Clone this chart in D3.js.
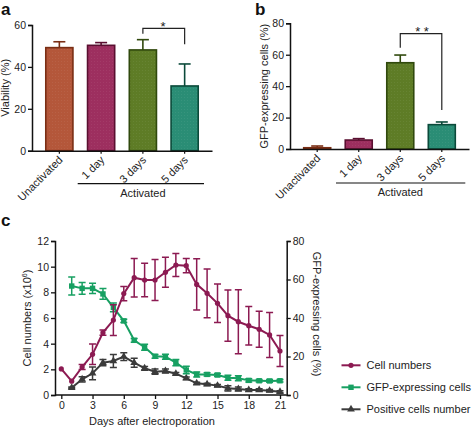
<!DOCTYPE html>
<html><head><meta charset="utf-8">
<script src="https://cdn.jsdelivr.net/npm/d3@7"></script>
<style>
body{margin:0;background:#fff;}
svg{display:block;font-family:"Liberation Sans",Arial,sans-serif;}
</style></head>
<body>
<svg id="chart" width="472" height="428"></svg>
<script>
// ---------- DATA ----------
const barCategories = ["Unactivated", "1 day", "3 days", "5 days"];
const viabilityMean = [49.2, 50.3, 48.1, 30.9];
const viabilityErr  = [2.8, 1.3, 4.9, 10.5];
const gfpBarMean = [0.8, 5.7, 54.9, 15.5];
const gfpBarErr  = [1.1, 0.9, 4.9, 1.7];
const barFills   = ["#b4573a", "#9d2f5f", "#5e7c26", "#2a8d75"];
const barStrokes = ["#7a2e14", "#5a0f30", "#30490d", "#0b4a3a"];
const yTicksA = [0, 20, 40, 60];
const yTicksB = [0, 20, 40, 60, 80];

const days = d3.range(0, 22);
const cellNumbers    = [2.03, 1.08, 2.18, 3.17, 4.86, 5.84, 7.9, 9.14, 8.96, 8.96, 9.56, 10.13, 10.08, 8.62, 7.92, 7.14, 6.18, 5.71, 5.4, 5.12, 4.68, 3.43];
const cellNumbersErr = [0, 0, 0.2, 0.8, 0.2, 1.2, 0.55, 1.5, 1.3, 1.6, 1.17, 0.9, 0.55, 2.0, 1.9, 1.5, 2.0, 2.5, 1.5, 1.4, 1.75, 1.2];
const gfpDays  = d3.range(1, 22);
const gfpPct   = [56.6, 55.4, 55.4, 52.5, 45.5, 38.5, 28.4, 24.8, 20.1, 19.9, 16.8, 13.0, 10.7, 10.7, 10.4, 9.0, 8.7, 7.6, 7.4, 7.3, 7.4];
const gfpPctErr= [4.7, 3.0, 2.7, 2.8, 2.3, 0.8, 1.0, 1.6, 1.0, 1.3, 1.6, 2.0, 1.3, 0.8, 0.8, 1.3, 1.3, 0.8, 0.7, 0.7, 0.7];
const posCells    = [0.57, 1.22, 1.69, 2.52, 2.65, 2.99, 2.52, 2.08, 1.82, 1.87, 1.66, 1.3, 0.91, 0.83, 0.73, 0.52, 0.47, 0.39, 0.39, 0.34, 0.26];
const posCellsErr = [0.05, 0.2, 0.5, 0.25, 0.5, 0.3, 0.35, 0.15, 0.2, 0.15, 0.1, 0.1, 0.08, 0.08, 0.08, 0.2, 0.15, 0.1, 0.1, 0.08, 0.08];
const xTicksC = [0, 3, 6, 9, 12, 15, 18, 21];
const yTicksCLeft = [0, 2, 4, 6, 8, 10, 12];
const yTicksCRight = [0, 20, 40, 60, 80];
const legendLabels = ["Cell numbers", "GFP-expressing cells", "Positive cells number"];
const lineColors = ["#8c1a52", "#17a062", "#3b3b3b"];

// ---------- DRAW ----------
const svg = d3.select("#chart");
const defs = svg.append("defs");
const pat = defs.append("pattern").attr("id","dots").attr("width",3).attr("height",3).attr("patternUnits","userSpaceOnUse");
pat.append("rect").attr("x",1).attr("y",1).attr("width",0.8).attr("height",0.8).attr("fill","#fff").attr("opacity",0.09);

const tickFont = 10.5, labelFont = 11;

function panelLetter(t, x, y){
  svg.append("text").attr("x",x).attr("y",y).text(t)
    .attr("font-size",17).attr("font-weight","bold").attr("fill","#111");
}

function barPanel(opts){
  const {xRange, yScale, means, errs, yTicks, yLabel, yLabelX, bracket, star, starX, starY, actLine} = opts;
  const x = d3.scaleBand().domain(barCategories).range(xRange).paddingInner(0.35).paddingOuter(0.33);
  const g = svg.append("g");
  const y0 = yScale(0);
  barCategories.forEach((c,i)=>{
    const bx = x(c), bw = x.bandwidth(), cx = bx + bw/2;
    const yt = yScale(means[i]);
    const ye = yScale(means[i]+errs[i]);
    g.append("line").attr("x1",cx).attr("x2",cx).attr("y1",yt).attr("y2",ye).attr("stroke",barStrokes[i]).attr("stroke-width",1.6);
    g.append("line").attr("x1",cx-6).attr("x2",cx+6).attr("y1",ye).attr("y2",ye).attr("stroke",barStrokes[i]).attr("stroke-width",1.6);
    g.append("rect").attr("x",bx).attr("y",yt).attr("width",bw).attr("height",Math.max(0,y0-yt))
      .attr("fill",barFills[i]).attr("stroke",barStrokes[i]).attr("stroke-width",1.6);
    g.append("rect").attr("x",bx+1).attr("y",yt+1).attr("width",Math.max(0,bw-2)).attr("height",Math.max(0,y0-yt-2))
      .attr("fill","url(#dots)");
  });
  const ya = g.append("g").attr("transform",`translate(${xRange[0]},0)`)
    .call(d3.axisLeft(yScale).tickValues(yTicks).tickSize(4).tickPadding(2));
  ya.select(".domain").attr("stroke","#111").attr("stroke-width",1.5);
  ya.selectAll(".tick line").attr("stroke","#111").attr("stroke-width",1.3);
  ya.selectAll("text").attr("font-size",tickFont).attr("fill","#222").attr("font-family","Liberation Sans, Arial, sans-serif");
  const xa = g.append("g").attr("transform",`translate(0,${y0})`)
    .call(d3.axisBottom(x).tickSize(3).tickSizeOuter(0).tickFormat(""));
  xa.select(".domain").attr("stroke","#111").attr("stroke-width",1.5);
  xa.selectAll(".tick line").attr("stroke","#111").attr("stroke-width",1.2);
  barCategories.forEach((c)=>{
    const cx = x(c)+x.bandwidth()/2;
    g.append("text").attr("transform",`translate(${cx+4},${y0+10}) rotate(-45)`)
      .attr("text-anchor","end").attr("font-size",labelFont).attr("fill","#222").text(c);
  });
  g.append("line").attr("x1",actLine[0]).attr("x2",actLine[1]).attr("y1",actLine[2]).attr("y2",actLine[2]).attr("stroke","#111").attr("stroke-width",1.2);
  g.append("text").attr("x",(x(barCategories[2])+x.bandwidth()/2)).attr("y",actLine[2]+13)
    .attr("text-anchor","middle").attr("font-size",labelFont).attr("fill","#222").text("Activated");
  g.append("text").attr("transform",`translate(${yLabelX},${(yScale.range()[0]+yScale.range()[1])/2}) rotate(-90)`)
    .attr("text-anchor","middle").attr("font-size",labelFont).attr("fill","#222").text(yLabel);
  const c3 = x(barCategories[2])+x.bandwidth()/2, c5 = x(barCategories[3])+x.bandwidth()/2;
  g.append("path").attr("d",`M${c3},${bracket[1]}V${bracket[0]}H${c5}V${bracket[2]}`)
    .attr("fill","none").attr("stroke","#222").attr("stroke-width",1.2);
  g.append("text").attr("x",starX).attr("y",starY).attr("text-anchor","middle").attr("font-size",13).attr("fill","#222").text(star);
}

panelLetter("a", 1, 15);
barPanel({
  xRange:[32,212], yScale:d3.scaleLinear().domain([0,60]).range([150.7,25]),
  means:viabilityMean, errs:viabilityErr, yTicks:yTicksA, yLabel:"Viability (%)", yLabelX:9,
  bracket:[28.3,33.7,44.3], star:"*", starX:163, starY:31, actLine:[77.7,204,183.7]
});
panelLetter("b", 255, 15);
barPanel({
  xRange:[290,469], yScale:d3.scaleLinear().domain([0,80]).range([149,23.3]),
  means:gfpBarMean, errs:gfpBarErr, yTicks:yTicksB, yLabel:"GFP-expressing cells (%)", yLabelX:268,
  bracket:[33.7,47.7,110], star:"* *", starX:422, starY:36, actLine:[336,465.3,183]
});

// ---------- Panel c ----------
panelLetter("c", 1, 226);
const xC = d3.scaleLinear().domain([0,21]).range([61.3,280]);
const yL = d3.scaleLinear().domain([0,12]).range([395,241]);
const yR = d3.scaleLinear().domain([0,80]).range([395,241]);
const gc = svg.append("g");
const axL = gc.append("g").attr("transform","translate(55,0)").call(d3.axisLeft(yL).tickValues(yTicksCLeft).tickSize(4).tickPadding(2));
const axR = gc.append("g").attr("transform","translate(286.7,0)").call(d3.axisRight(yR).tickValues(yTicksCRight).tickSize(4).tickPadding(2));
const axB = gc.append("g").attr("transform","translate(0,395)").call(d3.axisBottom(xC).tickValues(xTicksC).tickSize(4).tickPadding(3).tickSizeOuter(0));
[axL,axR,axB].forEach(a=>{
  a.select(".domain").attr("stroke","#111").attr("stroke-width",1.5);
  a.selectAll(".tick line").attr("stroke","#111").attr("stroke-width",1.3);
  a.selectAll("text").attr("font-size",tickFont).attr("fill","#222").attr("font-family","Liberation Sans, Arial, sans-serif");
});
axB.select(".domain").attr("d","M55,0H286.7");

gc.append("text").attr("x",152).attr("y",425).attr("text-anchor","middle").attr("font-size",labelFont).attr("fill","#222").text("Days after electroporation");
const yl = gc.append("text").attr("transform","translate(31,318) rotate(-90)").attr("text-anchor","middle").attr("font-size",labelFont).attr("fill","#222");
yl.append("tspan").text("Cell numbers (x10");
yl.append("tspan").attr("font-size",7).attr("dy",-4).text("6");
yl.append("tspan").attr("dy",4).text(")");
gc.append("text").attr("transform","translate(313,314) rotate(90)").attr("text-anchor","middle").attr("font-size",labelFont).attr("fill","#222").text("GFP-expressing cells (%)");

function marker(g, type, cx, cy, color){
  if(type===0) g.append("circle").attr("cx",cx).attr("cy",cy).attr("r",2.6).attr("fill",color);
  else if(type===1) g.append("rect").attr("x",cx-2.7).attr("y",cy-2.7).attr("width",5.4).attr("height",5.4).attr("fill",color);
  else g.append("path").attr("d",d3.symbol(d3.symbolTriangle,26)()).attr("transform",`translate(${cx},${cy})`).attr("fill",color);
}

function series(xs, vals, errs, yScale, color, type){
  const g = gc.append("g");
  g.append("path").datum(xs.map((d,i)=>[d,vals[i]]))
    .attr("d",d3.line().x(d=>xC(d[0])).y(d=>yScale(d[1])))
    .attr("fill","none").attr("stroke",color).attr("stroke-width",2);
  xs.forEach((d,i)=>{
    const cx = xC(d);
    if(errs[i]>0){
      const y1 = yScale(vals[i]+errs[i]), y2 = yScale(vals[i]-errs[i]);
      g.append("path").attr("d",`M${cx},${y1}V${y2}M${cx-3.5},${y1}H${cx+3.5}M${cx-3.5},${y2}H${cx+3.5}`)
        .attr("stroke",color).attr("stroke-width",1.5).attr("fill","none");
    }
    marker(g, type, cx, yScale(vals[i]), color);
  });
}
series(gfpDays, posCells, posCellsErr, yL, lineColors[2], 2);
series(gfpDays, gfpPct, gfpPctErr, yR, lineColors[1], 1);
series(days, cellNumbers, cellNumbersErr, yL, lineColors[0], 0);

const legY = [365.3, 387.3, 409.3];
legendLabels.forEach((t,i)=>{
  const lg = svg.append("g");
  lg.append("line").attr("x1",341.5).attr("x2",360.5).attr("y1",legY[i]).attr("y2",legY[i]).attr("stroke",lineColors[i]).attr("stroke-width",2);
  marker(lg, i, 351, legY[i], lineColors[i]);
  lg.append("text").attr("x",366.5).attr("y",legY[i]+4).attr("font-size",labelFont).attr("fill","#222").text(t);
});
</script>
</body></html>
